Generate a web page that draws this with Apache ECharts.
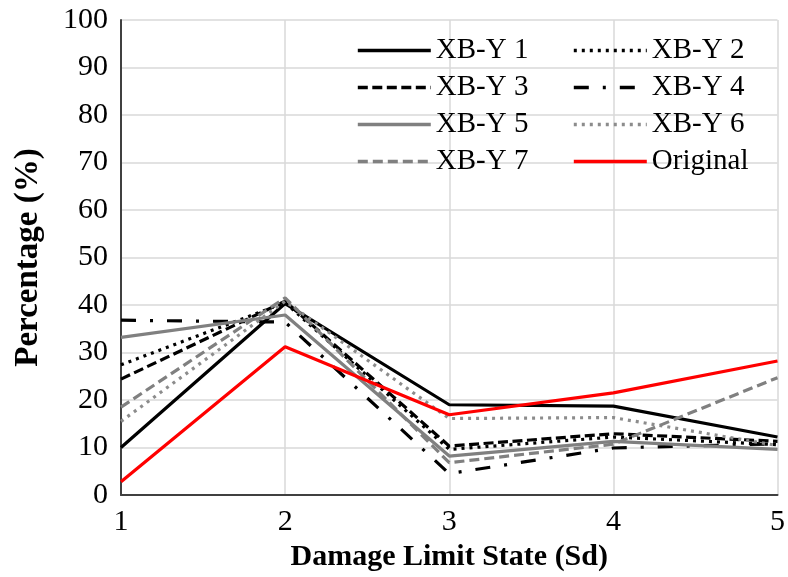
<!DOCTYPE html>
<html>
<head>
<meta charset="utf-8">
<script src="https://cdn.jsdelivr.net/npm/echarts@6/dist/echarts.min.js"></script>
<style>html,body{margin:0;padding:0;background:#fff}#c{width:788px;height:577px}</style>
</head>
<body>
<div id="c"></div>
<script>
const states = [1, 2, 3, 4, 5];
const yTicks = [0, 10, 20, 30, 40, 50, 60, 70, 80, 90, 100];
const xby1 = [10.0, 40.3, 19.0, 18.7, 12.2];
const xby2 = [27.4, 40.5, 9.6, 12.2, 10.6];
const xby3 = [24.4, 40.8, 10.3, 12.9, 11.3];
const xby4 = [36.8, 36.4, 4.5, 9.9, 10.8];
const xby5 = [33.2, 37.9, 8.2, 11.3, 9.6];
const xby6 = [15.5, 40.8, 16.1, 16.3, 10.4];
const xby7 = [18.5, 41.5, 6.8, 10.7, 24.7];
const original = [2.8, 31.2, 16.9, 21.5, 28.2];

const FONT = 'Liberation Serif, Times New Roman, serif';
function pts(arr){ return states.map((x,i)=>[x, arr[i]]); }
function mk(name, arr, color, type){
  return {
    name, type:'line', data: pts(arr), symbol:'none', animation:false,
    lineStyle:{color, width:3.2, type, cap:'butt'}, itemStyle:{color}
  };
}
const series = [
  mk('XB-Y 1', xby1, '#000000', 'solid'),
  mk('XB-Y 2', xby2, '#000000', [3,5]),
  mk('XB-Y 3', xby3, '#000000', [10,4.5]),
  mk('XB-Y 4', xby4, '#000000', [15,14,3,14]),
  mk('XB-Y 5', xby5, '#808080', 'solid'),
  mk('XB-Y 6', xby6, '#8c8c8c', [3,5]),
  mk('XB-Y 7', xby7, '#808080', [10,5]),
  mk('Original', original, '#ff0000', 'solid')
];
const legendCommon = {
  orient:'vertical', itemWidth:73, itemHeight:14, itemGap:8,
  itemStyle:{opacity:0},
  lineStyle:{width:3.6},
  textStyle:{fontFamily:FONT, fontSize:29, color:'#000', lineHeight:29},
  selectedMode:false
};
const chart = echarts.init(document.getElementById('c'), null, {renderer:'canvas'});
chart.setOption({
  backgroundColor:'#fff',
  animation:false,
  grid:{left:121, right:8, top:20, bottom:82, containLabel:false},
  legend:[
    Object.assign({left:351, top:31, data:['XB-Y 1','XB-Y 3','XB-Y 5','XB-Y 7']}, legendCommon),
    Object.assign({left:567, top:31, data:['XB-Y 2','XB-Y 4','XB-Y 6','Original']}, legendCommon)
  ],
  xAxis:{
    type:'value', min:1, max:5, interval:1,
    name:'Damage Limit State (Sd)', nameLocation:'middle', nameGap:42,
    nameTextStyle:{fontFamily:FONT, fontSize:30, fontWeight:'bold', color:'#000'},
    axisLine:{show:true, lineStyle:{color:'#404040', width:2}},
    axisTick:{show:false},
    axisLabel:{fontFamily:FONT, fontSize:30, color:'#000', margin:12,
      formatter:v=>states.includes(v)?String(v):''},
    splitLine:{show:true, lineStyle:{color:'#d9d9d9', width:1.5}}
  },
  yAxis:{
    type:'value', min:0, max:100, interval:10,
    name:'Percentage (%)', nameLocation:'middle', nameGap:76,
    nameTextStyle:{fontFamily:FONT, fontSize:33, fontWeight:'bold', color:'#000'},
    axisLine:{show:true, lineStyle:{color:'#404040', width:2}},
    axisTick:{show:false},
    axisLabel:{fontFamily:FONT, fontSize:30, color:'#000', margin:13,
      formatter:v=>yTicks.includes(v)?String(v):''},
    splitLine:{show:true, lineStyle:{color:'#d9d9d9', width:1.5}}
  },
  series
});
</script>
</body>
</html>
